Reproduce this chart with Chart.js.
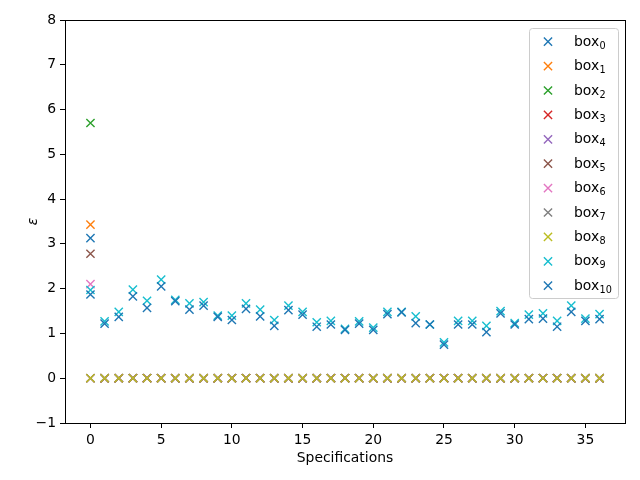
<!DOCTYPE html>
<html>
<head>
<meta charset="utf-8">
<script src="https://cdn.jsdelivr.net/npm/chart.js@4.4.0/dist/chart.umd.min.js"></script>
<style>
  html, body { margin: 0; padding: 0; background: #fff; }
  #wrap { width: 640px; height: 480px; }
</style>
</head>
<body>
<div id="wrap"><canvas id="c"></canvas></div>
<script>
// specification index 0..36
var specs = [0,1,2,3,4,5,6,7,8,9,10,11,12,13,14,15,16,17,18,19,20,21,22,23,24,25,26,27,28,29,30,31,32,33,34,35,36];

// values at spec 0 for box0..box8 (all zero afterwards)
var firstValues = [3.13, 3.43, 5.70, 0, 0, 2.78, 2.10, 0, 0];

var box9 = [1.97,1.27,1.48,1.98,1.73,2.20,1.75,1.67,1.70,1.40,1.40,1.67,1.53,1.30,1.62,1.48,1.25,1.28,1.10,1.27,
            1.13,1.48,1.48,1.38,1.20,0.80,1.28,1.28,1.17,1.50,1.23,1.42,1.45,1.28,1.62,1.33,1.43];
var box10 = [1.87,1.22,1.37,1.83,1.57,2.05,1.72,1.53,1.62,1.37,1.30,1.55,1.38,1.17,1.52,1.42,1.15,1.20,1.08,1.22,
             1.08,1.43,1.47,1.23,1.20,0.75,1.20,1.20,1.03,1.45,1.20,1.32,1.33,1.15,1.48,1.28,1.32];

var xTicks = [0,5,10,15,20,25,30,35];
var colors = ['#1f77b4','#ff7f0e','#2ca02c','#d62728','#9467bd','#8c564b','#e377c2','#7f7f7f','#bcbd22','#17becf','#1f77b4'];
var FONT = 'DejaVu Sans';

var series = [];
for (var b = 0; b < 9; b++) {
    var s = [];
    for (var i = 0; i < specs.length; i++) s.push(i === 0 ? firstValues[b] : 0);
    series.push(s);
}
series.push(box9);
series.push(box10);

var datasets = [];
for (var k = 0; k < series.length; k++) {
    datasets.push({
        label: 'box' + k,
        data: specs.map(function(x, i) { return {x: x, y: series[k][i]}; }),
        pointStyle: 'crossRot',
        pointRadius: 5.8,
        pointHoverRadius: 5.8,
        borderWidth: 1.4,
        borderColor: colors[k],
        backgroundColor: colors[k],
        showLine: false,
        order: 10 - k
    });
}

function minusSign(v) { return String(v).replace('-', '\u2212'); }

// frame + matplotlib-like legend inside the axes
var mplLegend = {
    id: 'mplLegend',
    afterDraw: function(chart) {
        var ctx = chart.ctx, a = chart.chartArea;
        ctx.save();
        ctx.strokeStyle = '#000';
        ctx.lineWidth = 1;
        ctx.strokeRect(Math.round(a.left) + 0.5, Math.round(a.top) + 0.5, Math.round(a.right - a.left), Math.round(a.bottom - a.top));

        var x0 = 529, y0 = 28, w = 89, h = 270;
        ctx.fillStyle = 'rgba(255,255,255,0.8)';
        ctx.strokeStyle = '#cccccc';
        ctx.beginPath();
        ctx.roundRect(x0 + 0.5, y0 + 0.5, w, h, 3);
        ctx.fill();
        ctx.stroke();

        for (var k = 0; k < datasets.length; k++) {
            var cy = 41.7 + k * 24.4;
            var mx = 548, r = 4.1;
            ctx.strokeStyle = colors[k];
            ctx.lineWidth = 1.4;
            ctx.beginPath();
            ctx.moveTo(mx - r, cy - r); ctx.lineTo(mx + r, cy + r);
            ctx.moveTo(mx - r, cy + r); ctx.lineTo(mx + r, cy - r);
            ctx.stroke();
            ctx.fillStyle = '#000';
            ctx.textBaseline = 'alphabetic';
            ctx.textAlign = 'left';
            ctx.font = '13.9px "' + FONT + '"';
            ctx.fillText('box', 574, cy + 4);
            var tw = ctx.measureText('box').width;
            ctx.font = '9.7px "' + FONT + '"';
            ctx.fillText(String(k), 574 + tw + 0.5, cy + 7);
        }
        ctx.restore();
    }
};

new Chart(document.getElementById('c'), {
    type: 'scatter',
    data: { datasets: datasets },
    options: {
        responsive: true,
        maintainAspectRatio: false,
        animation: false,
        layout: { padding: { top: 20, right: 15, left: 0, bottom: 0 } },
        plugins: {
            legend: { display: false },
            tooltip: { enabled: false }
        },
        scales: {
            x: {
                type: 'linear',
                min: -1.8,
                max: 37.8,
                afterBuildTicks: function(scale) { scale.ticks = xTicks.map(function(v) { return {value: v}; }); },
                afterFit: function(scale) { scale.height = 57; },
                grid: { drawOnChartArea: false, drawTicks: true, tickLength: 5, color: '#000', tickWidth: 1 },
                border: { display: true, color: '#000', width: 1 },
                ticks: { color: '#000', padding: 4, font: { family: FONT, size: 13.9 }, maxRotation: 0 },
                title: { display: true, text: 'Specifications', color: '#000', font: { family: FONT, size: 13.9 }, padding: { top: 2, bottom: 13 } }
            },
            y: {
                type: 'linear',
                min: -1,
                max: 8,
                ticks: { stepSize: 1, color: '#000', padding: 4, font: { family: FONT, size: 13.9 }, callback: function(v) { return minusSign(v); } },
                afterFit: function(scale) { scale.width = 65; },
                grid: { drawOnChartArea: false, drawTicks: true, tickLength: 5, color: '#000', tickWidth: 1 },
                border: { display: true, color: '#000', width: 1 },
                title: { display: true, text: 'ε', color: '#000', font: { family: FONT, size: 13.9, style: 'italic' }, padding: { top: 25, bottom: 0 } }
            }
        }
    },
    plugins: [mplLegend]
});
</script>
</body>
</html>
